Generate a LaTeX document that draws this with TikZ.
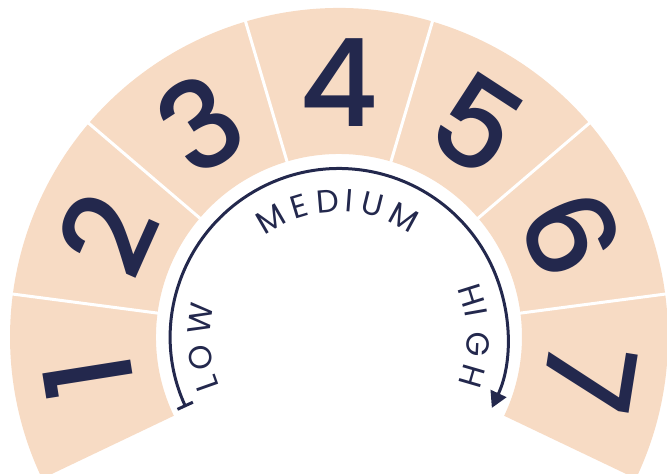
\documentclass[tikz,border=0pt]{standalone}
\usepackage{fontspec}
\setmainfont{Poppins}
\newfontfamily\digitfont{Poppins}[UprightFont={* Medium}]
\usetikzlibrary{arrows.meta}
\definecolor{peach}{HTML}{F7DBC4}
\definecolor{navy}{HTML}{23284D}
\begin{document}
\begin{tikzpicture}[x=1pt,y=1pt,
  numtext/.style={text=navy, font=\fontsize{122}{122}\digitfont, inner sep=0pt},
  arcletter/.style={text=navy, font=\fontsize{32}{32}\selectfont, inner sep=0pt},
  sepline/.style={draw=white, line width=3pt},
  levelarc/.style={draw=navy, line width=3pt}]
\useasboundingbox (-339,-137) rectangle (328,337);
\begin{scope}
\clip (-339,-137) rectangle (328,337);
\fill[peach] (-25.5:329) arc[start angle=-25.5, end angle=205.5, radius=329]
  -- (205.5:183) arc[start angle=205.5, end angle=-25.5, radius=183] -- cycle;
\end{scope}
\foreach \a in {1,...,6} {
  \draw[sepline] ({205.5-33*\a}:180) -- ({205.5-33*\a}:332);
}
\foreach \n in {1,...,7} {
  \node[numtext, rotate={99-33*(\n-1)}] (d\n) at ({189-33*(\n-1)}:254) {\n};
}
\draw[levelarc, {Bar[width=17pt]}-{Triangle[length=16pt,width=17pt]}]
  (204.6:168.5) arc[start angle=204.6, end angle=-24.9, radius=168.5];
\foreach \ch/\ang [count=\i] in {M/120.1, E/106.8, D/94.9, I/85.6, U/75.9, M/61.4} {
  \node[arcletter, rotate={\ang-90}] (m\i) at (\ang:136.5) {\ch};
}
\foreach \ch/\ang [count=\i] in {L/199.5, O/188.4, W/172.6} {
  \node[arcletter, rotate={\ang-90}] (l\i) at (\ang:140) {\ch};
}
\foreach \ch/\ang [count=\i] in {H/17.4, I/10, G/-2.9, H/-16.2} {
  \node[arcletter, rotate={\ang-90}] (h\i) at (\ang:139) {\ch};
}
\end{tikzpicture}
\end{document}
